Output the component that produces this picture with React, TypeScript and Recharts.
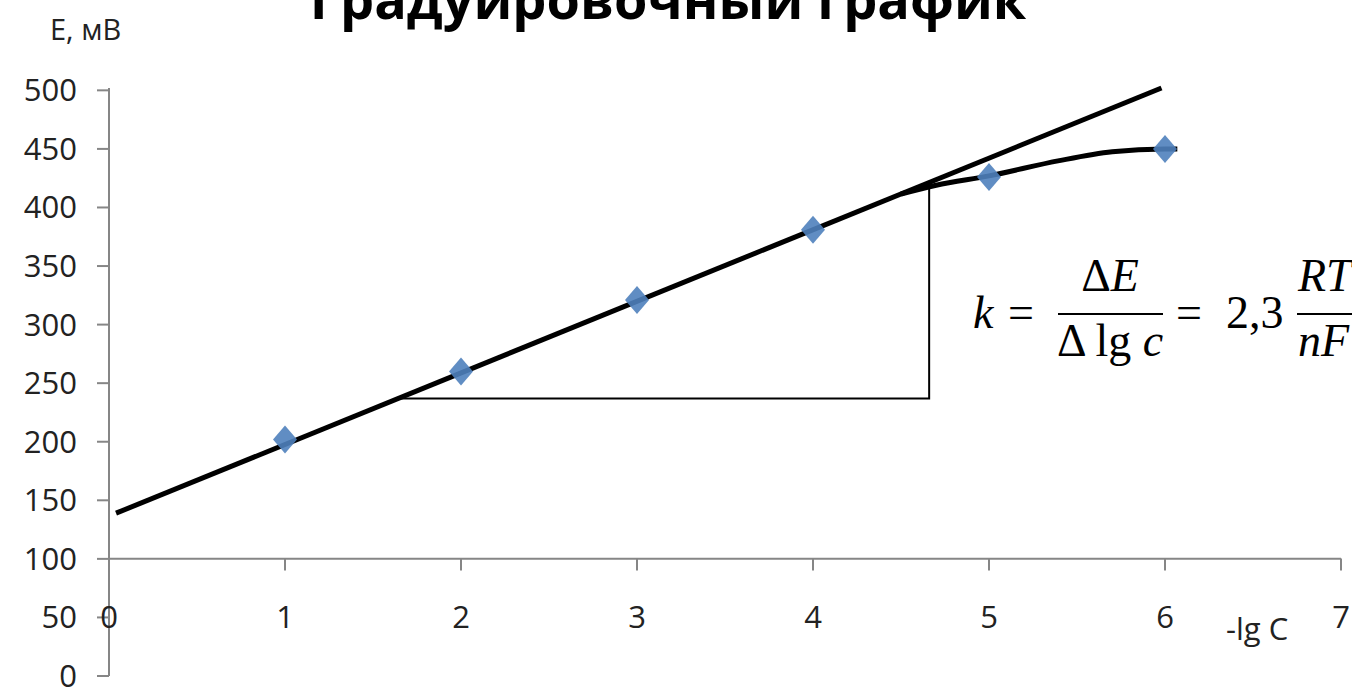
import React from 'react';
import { ComposedChart, Line, Scatter, XAxis, YAxis, ReferenceLine, Customized } from 'recharts';

// measured points: -lg C vs E, mV
const pointsX = [1, 2, 3, 4, 5, 6];
const pointsE = [202, 260, 321, 381, 426, 450];

// straight calibration line (end points)
const lineX = [0.04, 5.98];
const lineE = [139, 502];

// bending part of the curve near saturation
const curveX = [4.5, 4.7, 5, 5.4, 5.7, 6, 6.07];
const curveE = [411.5, 419, 427, 440, 447.5, 450, 450];

// slope triangle (ΔE over Δlg c)
const triX = [1.65, 4.66, 4.66];
const triE = [237, 237, 418];

const xTicks = [0, 1, 2, 3, 4, 5, 6, 7];
const yTicks = [0, 50, 100, 150, 200, 250, 300, 350, 400, 450, 500];

const zip = (xs: number[], ys: number[]) => xs.map((x, i) => ({ x, y: ys[i] }));

const points = zip(pointsX, pointsE);
const straight = zip(lineX, lineE);
const curve = zip(curveX, curveE);
const triangle = zip(triX, triE);

const W = 1352;
const H = 687;
const PLOT_TOP = 88;
const PLOT_BOTTOM = 676;
const yPix = (v: number) => PLOT_BOTTOM - (v / 500) * (PLOT_BOTTOM - PLOT_TOP);
const AXIS_Y = yPix(100);
const AXIS_COLOR = '#868686';
const FONT = '"Open Sans", sans-serif';

const Diamond = (props: any) => {
  const { cx, cy } = props;
  return (
    <path
      d={`M${cx},${cy - 14}L${cx + 12},${cy}L${cx},${cy + 14}L${cx - 12},${cy}Z`}
      fill="#4F81BD"
      fillOpacity={0.9}
    />
  );
};

// x axis crosses at E = 100, so its ticks are drawn there rather than at the bottom
const XTick = (props: any) => {
  const { x, payload } = props;
  return (
    <g>
      <line x1={x} x2={x} y1={AXIS_Y} y2={AXIS_Y + 12} stroke={AXIS_COLOR} strokeWidth={2} />
      <text x={x} y={AXIS_Y + 70} textAnchor="middle" fontSize={31} fontFamily={FONT} fill="#222">
        {payload.value}
      </text>
    </g>
  );
};

const Labels = () => (
  <g>
    <text x={668} y={19} textAnchor="middle" fontSize={54} fontWeight="bold" fontFamily={FONT} fill="#000">
      Градуировочный график
    </text>
    <text x={50} y={40} fontSize={29} fontFamily={FONT} fill="#222">
      E, мВ
    </text>
    <text x={1226} y={640} fontSize={31} fontFamily={FONT} fill="#222">
      -lg C
    </text>
    <g fontFamily='"Liberation Serif", serif' fontSize={46} fill="#000">
      <text x={973} y={328} fontStyle="italic">k</text>
      <text x={1008} y={328}>=</text>
      <text x={1110} y={291} textAnchor="middle">
        Δ<tspan fontStyle="italic">E</tspan>
      </text>
      <line x1={1058} x2={1163} y1={314} y2={314} stroke="#000" strokeWidth={2} />
      <text x={1110} y={356} textAnchor="middle">
        Δ lg <tspan fontStyle="italic">c</tspan>
      </text>
      <text x={1176} y={328}>=</text>
      <text x={1226} y={328}>2,3</text>
      <text x={1298} y={291} fontStyle="italic">RT</text>
      <line x1={1297} x2={1360} y1={314} y2={314} stroke="#000" strokeWidth={2} />
      <text x={1298} y={356} fontStyle="italic">nF</text>
    </g>
  </g>
);

export default function App() {
  return (
    <div style={{ position: 'absolute', left: 0, top: 0, width: W, height: H, background: '#fff' }}>
      <ComposedChart width={W} height={H} margin={{ top: PLOT_TOP, right: 11, bottom: H - PLOT_BOTTOM - 1, left: 9 }}>
        <XAxis
          type="number"
          dataKey="x"
          domain={[0, 7]}
          ticks={xTicks}
          height={1}
          axisLine={false}
          tickLine={false}
          tick={(p: any) => <XTick {...p} />}
          interval={0}
        />
        <YAxis
          type="number"
          dataKey="y"
          domain={[0, 500]}
          ticks={yTicks}
          width={100}
          tickSize={12}
          tickMargin={20}
          interval={0}
          axisLine={{ stroke: AXIS_COLOR, strokeWidth: 2 }}
          tickLine={{ stroke: AXIS_COLOR, strokeWidth: 2 }}
          tick={{ fontSize: 31, fontFamily: FONT, fill: '#222' }}
        />
        <ReferenceLine y={100} stroke={AXIS_COLOR} strokeWidth={2} />
        <Scatter data={points} dataKey="y" shape={<Diamond />} isAnimationActive={false} />
        <Line data={triangle} dataKey="y" type="linear" stroke="#000" strokeWidth={2} dot={false} isAnimationActive={false} />
        <Line data={curve} dataKey="y" type="monotone" stroke="#000" strokeWidth={5} dot={false} isAnimationActive={false} />
        <Line data={straight} dataKey="y" type="linear" stroke="#000" strokeWidth={5} dot={false} isAnimationActive={false} />
        <Customized component={Labels} />
      </ComposedChart>
    </div>
  );
}
